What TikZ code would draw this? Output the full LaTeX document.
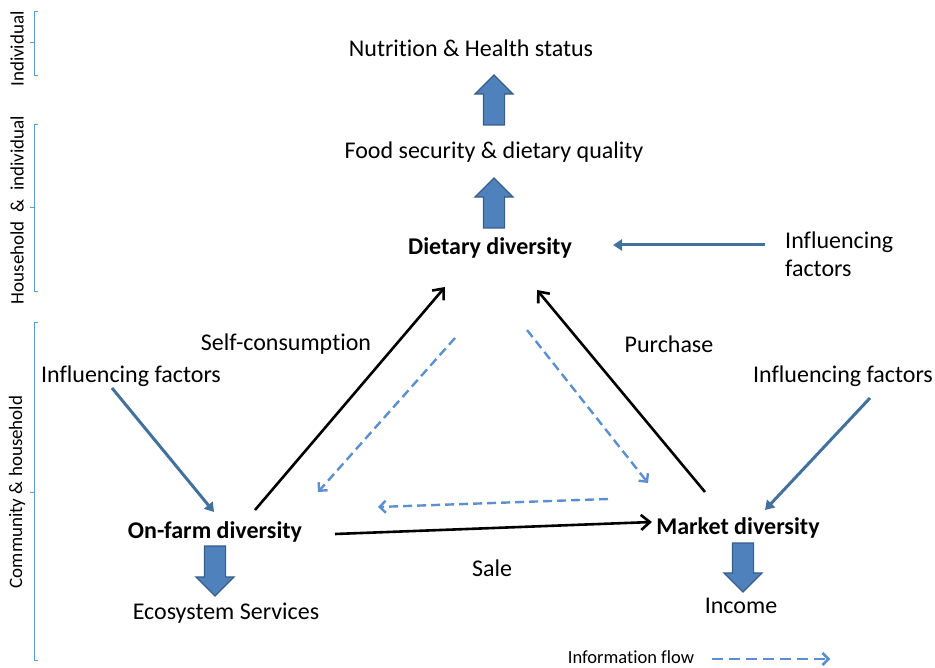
\documentclass[tikz,border=0pt]{standalone}
\usepackage{fontspec}
\setmainfont{Carlito}[Ligatures=NoCommon]
\usetikzlibrary{arrows.meta,calc,shapes.arrows}

\definecolor{flowblue}{HTML}{41719C}
\definecolor{infoblue}{HTML}{5B8FD0}
\definecolor{arrowfill}{HTML}{4F81BD}
\definecolor{arrowedge}{HTML}{385D8A}
\definecolor{bracketblue}{HTML}{5B9BD5}

\begin{document}
\begin{tikzpicture}[
    x=1pt, y=-1pt,
    txt/.style={font=\fontsize{24}{28}\selectfont, inner sep=2pt},
    boldtxt/.style={font=\fontsize{24}{28}\selectfont\bfseries, inner sep=2pt},
    levellabel/.style={font=\fontsize{19}{22}\selectfont, rotate=90},
    levelbracket/.style={draw=bracketblue, line width=1pt},
    blockarrow/.style={
        single arrow,
        draw=arrowedge,
        fill=arrowfill,
        line width=1.2pt,
        minimum width=37pt,
        minimum height=#1,
        single arrow head extend=8.5pt,
        inner xsep=0pt,
        inner ysep=10pt,
        outer sep=0pt,
        anchor=tail
    },
    mainflow/.style={line width=2.6pt, -{Straight Barb[length=9pt,width=15pt]}},
    inflflow/.style={draw=flowblue, line width=3pt, -{Triangle[length=9pt,width=11pt]}},
    infoflow/.style={draw=infoblue, line width=2.4pt, dash pattern=on 9pt off 5pt,
        -{Straight Barb[length=6pt,width=12pt]}}
]
\useasboundingbox (0,0) rectangle (935,668);

% ---- levels (left margin) ----
\draw[levelbracket] (38,12) -- (34,12) -- (34,76) -- (38,76) (34,43) -- (30,43);
\draw[levelbracket] (38,125) -- (34,125) -- (34,292) -- (38,292) (34,208) -- (30,208);
\draw[levelbracket] (38,323) -- (34,323) -- (34,660) -- (38,660) (34,492) -- (30,492);
\node[levellabel] (lvlI) at (17,49) {Individual};
\node[levellabel] (lvlH) at (17,210) {Household~~\&~~individual};
\node[levellabel] (lvlC) at (17,492) {Community \& household};

% ---- outcome chain ----
\node[txt] (health) at (471,48) {Nutrition \& Health status};
\node[txt] (food) at (494,152) {Food security \& dietary quality};
\node[boldtxt] (diet) at (490,248) {Dietary diversity};
\node[blockarrow=50pt, rotate=90] (upA) at (494,125) {};
\node[blockarrow=50pt, rotate=90] (upB) at (494,228) {};

\node[txt, align=left, anchor=west] (inflD) at (783,254) {Influencing\\factors};

% ---- the triangle ----
\node[boldtxt] (farm) at (215,532) {On-farm diversity};
\node[boldtxt] (market) at (738,528) {Market diversity};
\node[txt] (selfc) at (286,344) {Self-consumption};
\node[txt] (purch) at (669,344) {Purchase};
\node[txt] (sale) at (492,568) {Sale};
\node[txt] (inflF) at (131,376) {Influencing factors};
\node[txt] (inflM) at (843,376) {Influencing factors};

% ---- outputs below ----
\node[txt] (eco) at (226,613) {Ecosystem Services};
\node[txt] (income) at (741,606) {Income};
\node[blockarrow=50pt, rotate=-90] (downF) at (215,546) {};
\node[blockarrow=49pt, rotate=-90] (downM) at (743,543) {};

% ---- flows ----
\draw[mainflow] ($(farm)+(40,-22)$) -- ($(diet)+(-45,39)$);
\draw[mainflow] ($(market)+(-33,-36)$) -- ($(diet)+(47,42)$);
\draw[mainflow] ($(farm)+(120,2)$) -- ($(market)+(-86,-6)$);

\draw[inflflow] ($(inflF)+(-19,12)$) -- ($(farm)+(-1,-20)$);
\draw[inflflow] ($(inflM)+(27,22)$) -- ($(market)+(27,-18)$);
\draw[inflflow] ($(inflD.west)+(-18,-9)$) -- ($(diet)+(123,-3)$);

\draw[infoflow] ($(diet)+(-35,90)$) -- ($(farm)+(103,-40)$);
\draw[infoflow] ($(diet)+(37,82)$) -- ($(market)+(-90,-45)$);
\draw[infoflow] ($(market)+(-130,-29)$) -- ($(farm)+(163,-25)$);

% ---- legend ----
\node[font=\fontsize{18.5}{22}\selectfont, inner sep=1pt] (legend) at (631,657) {Information flow};
\coordinate (legendEnd) at ($(legend.east)+(135,2)$);
\draw[infoflow, line width=2.6pt, dash pattern=on 11pt off 6pt] ($(legend.east)+(17,2)$) -- (legendEnd);

\end{tikzpicture}
\end{document}
